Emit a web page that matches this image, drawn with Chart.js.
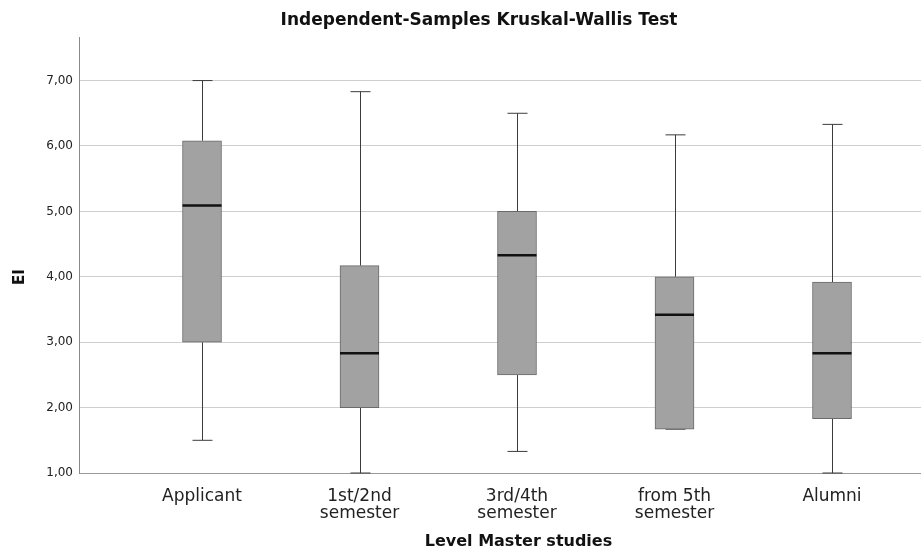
<!DOCTYPE html>
<html>
<head>
<meta charset="utf-8">
<script src="https://cdn.jsdelivr.net/npm/chart.js@4.4.1/dist/chart.umd.min.js"></script>
<style>
  html, body { margin: 0; padding: 0; background: #fff; overflow: hidden; }
  #wrap { width: 958px; height: 554px; }
</style>
</head>
<body>
<div id="wrap"><canvas id="boxChart"></canvas></div>
<script>
// ===== DATA =====
var categories = [['Applicant'], ['1st/2nd', 'semester'], ['3rd/4th', 'semester'], ['from 5th', 'semester'], ['Alumni']];
var whiskerLow = [1.50, 1.00, 1.33, 1.67, 1.00];
var q1Values = [3.00, 2.00, 2.50, 1.67, 1.83];
var medianValues = [5.09, 2.83, 4.33, 3.42, 2.83];
var q3Values = [6.08, 4.17, 5.00, 4.00, 3.92];
var whiskerHigh = [7.00, 6.83, 6.50, 6.17, 6.33];
var yTicks = [1, 2, 3, 4, 5, 6, 7];
var yTitle = 'EI';

var boxData = categories.map(function (c, i) {
    return { x: i + 1, y: [q1Values[i], q3Values[i]] };
});

// whiskers behind the boxes, medians on top
var boxPlotPlugin = {
    id: 'boxPlotParts',
    beforeDatasetsDraw: function (chart) {
        var ctx = chart.ctx;
        var xs = chart.scales.x, ys = chart.scales.y;
        ctx.save();
        ctx.strokeStyle = '#3c3c3c';
        ctx.lineWidth = 1;
        for (var i = 0; i < categories.length; i++) {
            var cx = Math.round(xs.getPixelForValue(i + 1)) + 0.5;
            var lo = ys.getPixelForValue(whiskerLow[i]);
            var hi = ys.getPixelForValue(whiskerHigh[i]);
            var b1 = ys.getPixelForValue(q1Values[i]);
            var b3 = ys.getPixelForValue(q3Values[i]);
            ctx.beginPath();
            ctx.moveTo(cx, hi); ctx.lineTo(cx, b3);
            ctx.moveTo(cx, b1); ctx.lineTo(cx, lo);
            ctx.moveTo(cx - 10, hi); ctx.lineTo(cx + 10, hi);
            ctx.moveTo(cx - 10, lo); ctx.lineTo(cx + 10, lo);
            ctx.stroke();
        }
        ctx.restore();
    },
    afterDatasetsDraw: function (chart) {
        var ctx = chart.ctx;
        var xs = chart.scales.x, ys = chart.scales.y;
        ctx.save();
        ctx.strokeStyle = '#111';
        ctx.lineWidth = 2.5;
        for (var i = 0; i < categories.length; i++) {
            var cx = xs.getPixelForValue(i + 1);
            var my = ys.getPixelForValue(medianValues[i]);
            ctx.beginPath();
            ctx.moveTo(cx - 19.5, my); ctx.lineTo(cx + 19.5, my);
            ctx.stroke();
        }
        ctx.restore();
    },
    afterDraw: function (chart) {
        // y axis title sits a bit below the middle in the original
        var ctx = chart.ctx;
        ctx.save();
        ctx.translate(20, 277);
        ctx.rotate(-Math.PI / 2);
        ctx.font = 'bold 15px "DejaVu Sans"';
        ctx.fillStyle = '#111';
        ctx.textAlign = 'center';
        ctx.textBaseline = 'middle';
        ctx.fillText(yTitle, 0, 0);
        ctx.restore();
    }
};

new Chart(document.getElementById('boxChart'), {
    type: 'bar',
    data: {
        datasets: [{
            data: boxData,
            backgroundColor: '#a2a2a2',
            borderColor: '#6a6a6a',
            borderWidth: 1,
            borderSkipped: false,
            barThickness: 39
        }]
    },
    plugins: [boxPlotPlugin],
    options: {
        responsive: true,
        maintainAspectRatio: false,
        animation: false,
        layout: { padding: 0 },
        plugins: {
            legend: { display: false },
            tooltip: { enabled: false },
            title: {
                display: true,
                text: 'Independent-Samples Kruskal-Wallis Test',
                color: '#111',
                font: { family: 'DejaVu Sans', size: 17, weight: 'bold' },
                padding: { top: 10, bottom: 7 }
            }
        },
        scales: {
            x: {
                type: 'linear',
                offset: false,
                min: 0.219,
                max: 5.8,
                afterBuildTicks: function (s) {
                    s.ticks = categories.map(function (c, i) { return { value: i + 1 }; });
                },
                afterFit: function (s) { s.height = 81; },
                grid: { display: false },
                border: { display: true, color: '#9a9a9a' },
                ticks: {
                    color: '#222',
                    padding: 7,
                    maxRotation: 0,
                    autoSkip: false,
                    font: { family: 'DejaVu Sans', size: 17, lineHeight: 1.0 },
                    callback: function (v) { return categories[v - 1] || ''; }
                },
                title: {
                    display: true,
                    text: 'Level Master studies',
                    color: '#111',
                    font: { family: 'DejaVu Sans', size: 16, weight: 'bold' },
                    padding: { top: 4, bottom: 3 }
                }
            },
            y: {
                min: 1,
                max: 7.66,
                afterBuildTicks: function (s) {
                    s.ticks = yTicks.map(function (v) { return { value: v }; });
                },
                afterFit: function (s) { s.width = 79; },
                grid: { color: '#cfcfcf', lineWidth: 1, drawTicks: false },
                border: { display: true, color: '#8a8a8a' },
                ticks: {
                    color: '#222',
                    padding: 6,
                    font: { family: 'DejaVu Sans', size: 12 },
                    callback: function (v) { return v.toFixed(2).replace('.', ','); }
                },
                title: { display: false }
            }
        }
    }
});
</script>
</body>
</html>
